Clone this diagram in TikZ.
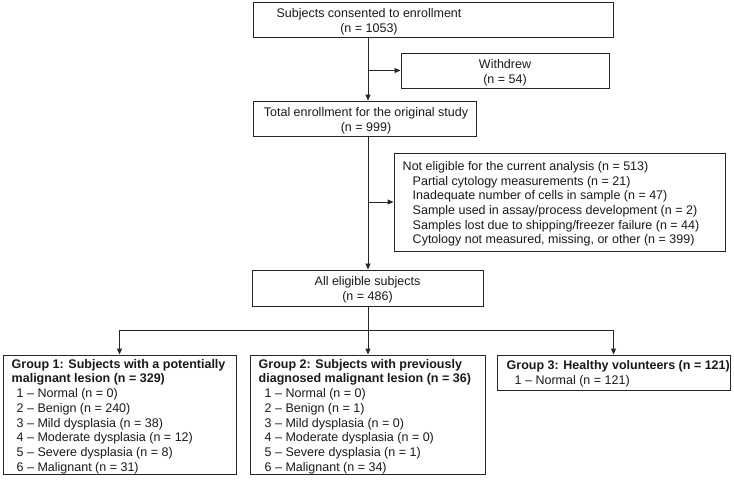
\documentclass[tikz,border=0pt]{standalone}
\usepackage{fontspec}
\setmainfont{Liberation Sans}
\usetikzlibrary{arrows.meta,calc}
\begin{document}
\begin{tikzpicture}[x=1pt,y=-1pt,
  lc/.style={draw=black!85, line width=0.95pt},
  box/.style={lc, rectangle, inner sep=0pt},
  tx/.style={inner sep=0pt, text=black!90,
    font=\fontsize{12.5}{14.7}\selectfont},
  ctxt/.style={tx, align=center},
  txt/.style={tx, align=left, anchor=west},
  arr/.style={lc, -{Triangle[length=6pt,width=5pt]}},
  conn/.style={lc}]
\useasboundingbox (0,0) rectangle (734,481);

\coordinate (tx) at (368,0);
\coordinate (sp) at (368,330);

% boxes
\node[box, minimum width=360pt, minimum height=35pt] (n1) at (433,19.5) {};
\node[ctxt] (n1t) at ($(n1.center -| tx)+(1,2)$)
  {Subjects consented to enrollment\\(n = 1053)};
\node[box, minimum width=208pt, minimum height=35pt] (wd) at (505,70.5) {};
\node[ctxt] (wdt) at ($(wd.center)+(0,2)$) {Withdrew\\(n = 54)};
\node[box, minimum width=223pt, minimum height=35pt] (n2) at (364.5,118.5) {};
\node[ctxt] (n2t) at ($(n2.center)+(1.5,2)$)
  {Total enrollment for the original study\\(n = 999)};
\node[box, minimum width=331pt, minimum height=98pt] (ne) at (559.5,202) {};
\node[txt] (net) at ($(ne.west)+(9,2)$)
  {Not eligible for the current analysis (n = 513)\\
   \hspace*{10pt}Partial cytology measurements (n = 21)\\
   \hspace*{10pt}Inadequate number of cells in sample (n = 47)\\
   \hspace*{10pt}Sample used in assay/process development (n = 2)\\
   \hspace*{10pt}Samples lost due to shipping/freezer failure (n = 44)\\
   \hspace*{10pt}Cytology not measured, missing, or other (n = 399)};
\node[box, minimum width=231pt, minimum height=36pt] (n3) at (367.5,288) {};
\node[ctxt] (n3t) at ($(n3.center)+(0,2)$) {All eligible subjects\\(n = 486)};

\node[box, minimum width=233pt, minimum height=119pt] (g1) at (119.5,414.5) {};
\node[txt] (g1t) at ($(g1.west)+(9,2)$)
  {\textbf{Group 1: Subjects with a potentially}\\
   \textbf{malignant lesion (n = 329)}\\
   \hspace*{5pt}1 \textendash{} Normal (n = 0)\\
   \hspace*{5pt}2 \textendash{} Benign (n = 240)\\
   \hspace*{5pt}3 \textendash{} Mild dysplasia (n = 38)\\
   \hspace*{5pt}4 \textendash{} Moderate dysplasia (n = 12)\\
   \hspace*{5pt}5 \textendash{} Severe dysplasia (n = 8)\\
   \hspace*{5pt}6 \textendash{} Malignant (n = 31)};

\node[box, minimum width=235pt, minimum height=119pt] (g2) at (367.5,414.5) {};
\node[txt] (g2t) at ($(g2.west)+(9,2)$)
  {\textbf{Group 2: Subjects with previously}\\
   \textbf{diagnosed malignant lesion (n = 36)}\\
   \hspace*{6pt}1 \textendash{} Normal (n = 0)\\
   \hspace*{6pt}2 \textendash{} Benign (n = 1)\\
   \hspace*{6pt}3 \textendash{} Mild dysplasia (n = 0)\\
   \hspace*{6pt}4 \textendash{} Moderate dysplasia (n = 0)\\
   \hspace*{6pt}5 \textendash{} Severe dysplasia (n = 1)\\
   \hspace*{6pt}6 \textendash{} Malignant (n = 34)};

\node[box, minimum width=233pt, minimum height=35pt] (g3) at (613.5,372.5) {};
\node[txt] (g3t) at ($(g3.west)+(10,1)$)
  {\textbf{Group 3: Healthy volunteers (n = 121)}\\
   \hspace*{8pt}1 \textendash{} Normal (n = 121)};

% connectors
\draw[arr] (n1.south -| tx) -- (n2.north -| tx);
\draw[arr] (wd.west -| tx) -- (wd.west);
\draw[arr] (n2.south -| tx) -- (n3.north -| tx);
\draw[arr] (ne.west -| tx) -- (ne.west);
\draw[conn] (n3.south -| sp) -- (sp);
\draw[arr] (sp) -| (g1.north);
\draw[arr] (sp) -- (g2.north -| sp);
\draw[arr] (sp) -| (g3.north);
\end{tikzpicture}
\end{document}
